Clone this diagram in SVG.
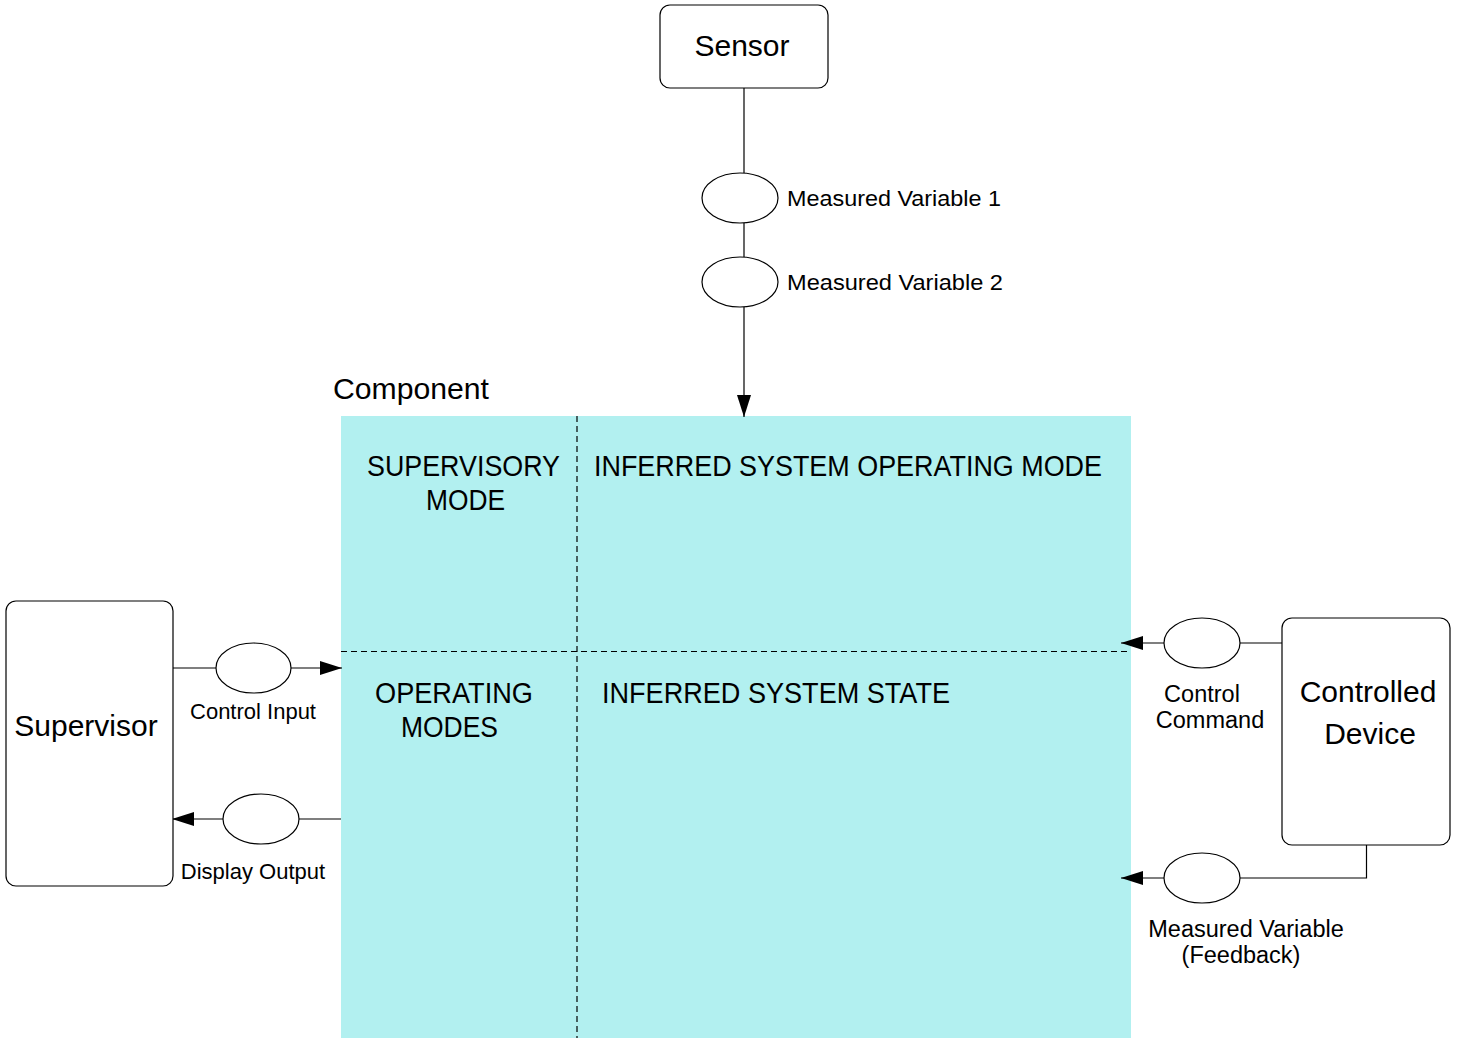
<svg xmlns="http://www.w3.org/2000/svg" width="1461" height="1038" viewBox="0 0 1461 1038">
<style>
.box{fill:#fff;stroke:#000;stroke-width:1.2}
.ell{fill:#fff;stroke:#000;stroke-width:1.2}
.ln{fill:none;stroke:#000;stroke-width:1.2}
.dash{fill:none;stroke:#000;stroke-width:1.2;stroke-dasharray:6,4}
text{font-family:"Liberation Sans",Arial,sans-serif;fill:#000}
.big{font-size:30px}
.lbl{font-size:22px}
.lbl2{font-size:23.5px}
.cmp{font-size:30px}
</style>
<defs>
<marker id="arr" markerUnits="userSpaceOnUse" markerWidth="24" markerHeight="16" refX="22" refY="7" orient="auto">
<path d="M0,0 L22,7 L0,14 Z" fill="#000"/>
</marker>
</defs>
<rect width="1461" height="1038" fill="#fff"/>

<g id="component">
<rect x="341" y="416" width="790" height="622" fill="#b2f0f0"/>
<line class="dash" x1="577" y1="416" x2="577" y2="1038"/>
<line class="dash" x1="341" y1="651.5" x2="1131" y2="651.5"/>
<text class="big" x="333" y="399" textLength="156" lengthAdjust="spacingAndGlyphs">Component</text>
<text class="cmp" x="367" y="476" textLength="193" lengthAdjust="spacingAndGlyphs">SUPERVISORY</text>
<text class="cmp" x="426" y="510" textLength="79" lengthAdjust="spacingAndGlyphs">MODE</text>
<text class="cmp" x="594" y="476" textLength="508" lengthAdjust="spacingAndGlyphs">INFERRED SYSTEM OPERATING MODE</text>
<text class="cmp" x="375" y="703" textLength="158" lengthAdjust="spacingAndGlyphs">OPERATING</text>
<text class="cmp" x="401" y="737" textLength="97" lengthAdjust="spacingAndGlyphs">MODES</text>
<text class="cmp" x="602" y="703" textLength="348" lengthAdjust="spacingAndGlyphs">INFERRED SYSTEM STATE</text>
</g>

<g id="connectors">
<line class="ln" x1="744" y1="88" x2="744" y2="173"/>
<line class="ln" x1="744" y1="223" x2="744" y2="257"/>
<line class="ln" x1="744" y1="307" x2="744" y2="417" marker-end="url(#arr)"/>
<line class="ln" x1="173" y1="668" x2="216" y2="668"/>
<line class="ln" x1="291" y1="668" x2="342" y2="668" marker-end="url(#arr)"/>
<line class="ln" x1="341" y1="819" x2="299" y2="819"/>
<line class="ln" x1="223" y1="819" x2="172" y2="819" marker-end="url(#arr)"/>
<line class="ln" x1="1282" y1="643" x2="1240" y2="643"/>
<line class="ln" x1="1164" y1="643" x2="1121" y2="643" marker-end="url(#arr)"/>
<polyline class="ln" points="1366.5,845 1366.5,878 1240,878"/>
<line class="ln" x1="1164" y1="878" x2="1121" y2="878" marker-end="url(#arr)"/>
</g>

<g id="sensor">
<rect class="box" x="660" y="5" width="168" height="83" rx="10"/>
<text class="big" x="742" y="56" text-anchor="middle">Sensor</text>
</g>

<g id="mv1">
<ellipse class="ell" cx="740" cy="198" rx="38" ry="25"/>
<text class="lbl" x="787" y="206" textLength="214" lengthAdjust="spacingAndGlyphs">Measured Variable 1</text>
</g>
<g id="mv2">
<ellipse class="ell" cx="740" cy="282" rx="38" ry="25"/>
<text class="lbl" x="787" y="290" textLength="216" lengthAdjust="spacingAndGlyphs">Measured Variable 2</text>
</g>

<g id="supervisor">
<rect class="box" x="6" y="601" width="167" height="285" rx="10"/>
<text class="big" x="86" y="736" text-anchor="middle">Supervisor</text>
</g>

<g id="control-input">
<ellipse class="ell" cx="253.5" cy="668" rx="37.5" ry="25"/>
<text class="lbl" x="253" y="719" text-anchor="middle">Control Input</text>
</g>

<g id="display-output">
<ellipse class="ell" cx="261" cy="819" rx="38" ry="25"/>
<text class="lbl" x="253" y="879" text-anchor="middle">Display Output</text>
</g>

<g id="controlled-device">
<rect class="box" x="1282" y="618" width="168" height="227" rx="10"/>
<text class="big" x="1368" y="702" text-anchor="middle">Controlled</text>
<text class="big" x="1370" y="744" text-anchor="middle">Device</text>
</g>

<g id="control-command">
<ellipse class="ell" cx="1202" cy="643" rx="38" ry="25"/>
<text class="lbl2" x="1202" y="702" text-anchor="middle">Control</text>
<text class="lbl2" x="1210" y="728" text-anchor="middle">Command</text>
</g>

<g id="measured-feedback">
<ellipse class="ell" cx="1202" cy="878" rx="38" ry="25"/>
<text class="lbl2" x="1246" y="937" text-anchor="middle">Measured Variable</text>
<text class="lbl2" x="1241" y="963" text-anchor="middle">(Feedback)</text>
</g>
</svg>
